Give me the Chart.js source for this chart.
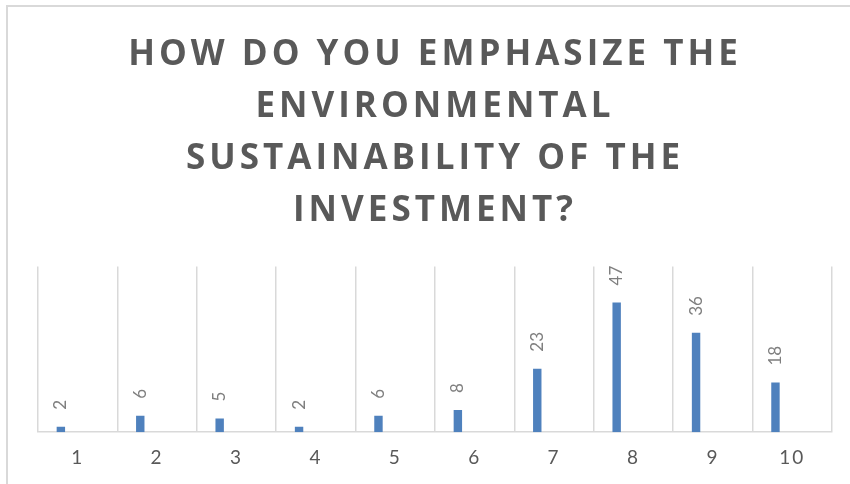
<!DOCTYPE html>
<html>
<head>
<meta charset="utf-8">
<script src="https://cdn.jsdelivr.net/npm/chart.js@4.4.0/dist/chart.umd.min.js"></script>
<style>
  html, body { margin: 0; padding: 0; background: #fff; overflow: hidden; }
  #frame {
    position: absolute; left: 6px; top: 5px; width: 900px; height: 520px;
    border-left: 2px solid #d9d9d9; border-top: 2px solid #d9d9d9;
  }
  #wrap { position: absolute; left: 0; top: 0; width: 850px; height: 484px; }
</style>
</head>
<body>
<div id="frame"></div>
<div id="wrap"><canvas id="myChart"></canvas></div>
<script>
const categories = ['1', '2', '3', '4', '5', '6', '7', '8', '9', '10'];
const scores = [2, 6, 5, 2, 6, 8, 23, 47, 36, 18];
// the sheet had extra (empty) series next to the scores, which pushes the bars left
const emptySeries = [null, null, null, null, null, null, null, null, null, null];
const titleLines = ['HOW DO YOU EMPHASIZE THE', 'ENVIRONMENTAL', 'SUSTAINABILITY OF THE', 'INVESTMENT?'];

const barBlue = '#4f81bd';
const gridGray = '#d9d9d9';
const textGray = '#595959';

// spaced-out lettering for the title and axis labels
const letterSpacing = {
    id: 'letterSpacing',
    afterLayout(chart) {
        const tb = chart.titleBlock;
        if (tb && !tb._spaced) {
            const draw = tb.draw;
            tb.draw = function () {
                chart.ctx.letterSpacing = '4px';
                draw.apply(this, arguments);
                chart.ctx.letterSpacing = '0px';
            };
            tb._spaced = true;
        }
        const x = chart.scales.x;
        if (x && !x._spaced) {
            const drawLabels = x.drawLabels;
            x.drawLabels = function () {
                chart.ctx.letterSpacing = '2px';
                drawLabels.apply(this, arguments);
                chart.ctx.letterSpacing = '0px';
            };
            x._spaced = true;
        }
    }
};

// value labels, turned on their side above each bar
const valueLabels = {
    id: 'valueLabels',
    afterDatasetsDraw(chart) {
        const ctx = chart.ctx;
        const meta = chart.getDatasetMeta(0);
        ctx.save();
        ctx.font = '17px Lato';
        ctx.fillStyle = '#7f7f7f';
        ctx.textAlign = 'left';
        ctx.textBaseline = 'middle';
        meta.data.forEach((bar, i) => {
            ctx.save();
            ctx.translate(bar.x, bar.y - 17);
            ctx.rotate(-Math.PI / 2);
            ctx.fillText(String(scores[i]), 0, 0);
            ctx.restore();
        });
        ctx.restore();
    }
};

const ctx = document.getElementById('myChart').getContext('2d');
const datasets = [{
    label: 'Score',
    data: scores,
    backgroundColor: barBlue,
    borderWidth: 0
}];
for (let k = 1; k < 5; k++) {
    datasets.push({ label: 'Series ' + (k + 1), data: emptySeries, backgroundColor: barBlue });
}

const myChart = new Chart(ctx, {
    type: 'bar',
    data: { labels: categories, datasets: datasets },
    options: {
        responsive: true,
        maintainAspectRatio: false,
        animation: false,
        categoryPercentage: 0.53,
        barPercentage: 1.0,
        layout: { padding: { left: 38, right: 18, top: 0, bottom: 1 } },
        plugins: {
            legend: { display: false },
            tooltip: { enabled: false },
            title: {
                display: true,
                text: titleLines,
                color: textGray,
                font: { family: 'Open Sans', size: 35, weight: 'bold', lineHeight: 1.49 },
                padding: { top: 29, bottom: 29 }
            }
        },
        scales: {
            x: {
                grid: { color: gridGray, lineWidth: 1.5, drawTicks: false, offset: true },
                border: { display: true, color: gridGray, width: 1.5 },
                ticks: { color: textGray, font: { family: 'Lato', size: 19 }, padding: 14 }
            },
            y: {
                display: false,
                min: 0,
                max: 60
            }
        }
    },
    plugins: [letterSpacing, valueLabels]
});
</script>
</body>
</html>
